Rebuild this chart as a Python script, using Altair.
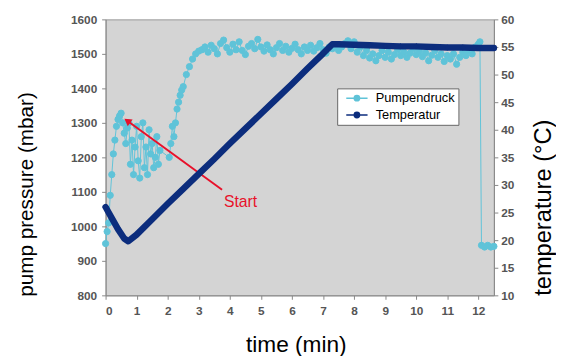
import altair as alt
import pandas as pd

# ---- data ----
press_t = [0.00, 0.05, 0.10, 0.15, 0.20, 0.25, 0.30, 0.35, 0.40, 0.45,
           0.50, 0.55, 0.60, 0.65, 0.70, 0.75, 0.80, 0.85, 0.90, 0.95,
           1.00, 1.05, 1.10, 1.15, 1.20, 1.25, 1.30, 1.35, 1.40, 1.45,
           1.50, 1.55, 1.60, 1.65, 1.70, 1.75,
           2.05, 2.10, 2.15, 2.20, 2.25, 2.30, 2.35, 2.40, 2.45, 2.50,
           2.60, 2.70, 2.80, 2.90, 3.00,
           3.10, 3.20, 3.30, 3.40, 3.50, 3.60, 3.70, 3.80, 3.90, 4.00,
           4.10, 4.20, 4.30, 4.40, 4.50, 4.60, 4.70, 4.80, 4.90, 5.00,
           5.10, 5.20, 5.30, 5.40, 5.50, 5.60, 5.70, 5.80, 5.90, 6.00,
           6.10, 6.20, 6.30, 6.40, 6.50, 6.60, 6.70, 6.80, 6.90, 7.00,
           7.10, 7.20, 7.30, 7.40, 7.50, 7.60, 7.70, 7.80, 7.90, 8.00,
           8.10, 8.20, 8.30, 8.40, 8.50, 8.60, 8.70, 8.80, 8.90, 9.00,
           9.10, 9.20, 9.30, 9.40, 9.50, 9.60, 9.70, 9.80, 9.90, 10.00,
           10.10, 10.20, 10.30, 10.40, 10.50, 10.60, 10.70, 10.80, 10.90, 11.00,
           11.10, 11.20, 11.30, 11.40, 11.50, 11.60, 11.70, 11.80, 11.90, 12.00,
           12.05, 12.10, 12.20, 12.30, 12.40, 12.50]
press_p = [950, 985, 1010, 1090, 1150, 1210, 1250, 1290, 1310, 1320,
           1328, 1300, 1270, 1240, 1285, 1300, 1180, 1250, 1150, 1230,
           1290, 1190, 1140, 1260, 1300, 1170, 1230, 1150, 1280, 1210,
           1240, 1170, 1200, 1260, 1180, 1220,
           1200, 1240, 1290, 1260, 1300, 1340, 1360, 1380, 1395, 1405,
           1440, 1463, 1485, 1500, 1508,
           1512, 1520, 1505, 1525, 1515, 1500, 1530, 1540, 1518, 1505,
           1528, 1512, 1535, 1510, 1498, 1522, 1530, 1515, 1542, 1520,
           1508, 1526, 1512, 1500, 1518, 1530, 1510, 1522, 1505, 1516,
           1528, 1512, 1500, 1520, 1510, 1525, 1508, 1518, 1530, 1512,
           1502, 1520, 1515, 1525, 1510, 1520, 1530, 1538, 1515, 1535,
           1505, 1520, 1495, 1510, 1488, 1500, 1480, 1495, 1510, 1490,
           1505, 1485, 1498, 1512, 1495, 1505, 1490, 1502, 1515, 1498,
           1508, 1492, 1503, 1480, 1496, 1510, 1490, 1500, 1478, 1495,
           1485, 1500, 1470, 1490, 1505, 1495, 1510, 1500, 1520, 1528,
           1535, 945, 940, 945, 940, 942]
assert len(press_t) == len(press_p)

temp_t = [0.0, 0.2, 0.4, 0.6, 0.73, 1.0, 1.5, 2.0, 2.5, 3.0,
          3.5, 4.0, 4.5, 5.0, 5.5, 6.0, 6.5, 7.0, 7.3, 7.5,
          8.0, 8.5, 9.0, 9.5, 10.0, 10.5, 11.0, 11.5, 12.0, 12.5]
temp_c = [26.0, 24.0, 22.0, 20.3, 19.8, 21.0, 23.8, 26.6, 29.3, 32.0,
          34.7, 37.5, 40.2, 42.9, 45.6, 48.3, 51.1, 53.8, 55.5, 55.5,
          55.4, 55.3, 55.2, 55.1, 55.1, 55.0, 54.9, 54.9, 54.8, 54.8]

series_names = ["Pumpendruck", "Temperatur"]
series_colors = ["#5fc3d8", "#0c2d7d"]

# annotation: arrow from label to the start peak (time, pressure)
arrow_t = [3.75, 0.73]
arrow_p = [1106, 1304]
arrow_tip_t = [0.73]
arrow_tip_p = [1304]
label_t = [3.81]
label_p = [1071]
label_text = ["Start"]

press_df = pd.DataFrame({"t": press_t, "p": press_p, "series": series_names[0]})
temp_df = pd.DataFrame({"t": temp_t, "c": temp_c, "series": series_names[1]})
arrow_df = pd.DataFrame({"t": arrow_t, "p": arrow_p, "o": [0, 1]})
tip_df = pd.DataFrame({"t": arrow_tip_t, "p": arrow_tip_p})
label_df = pd.DataFrame({"t": label_t, "p": label_p, "txt": label_text})

FONT = "Liberation Sans"
LBL = dict(labelFontSize=12, labelColor="#555", labelFont=FONT, labelFontWeight="bold")
TTL = dict(titleFont=FONT, titleFontWeight="normal", titleColor="#000")

xscale = alt.Scale(domain=[0, 12.5], nice=False, zero=False)
xaxis = alt.Axis(values=list(range(0, 13)), title="time (min)", grid=False,
                 titleFontSize=23, titleY=50, titleX=193, titleBaseline="middle",
                 titleAlign="center",
                 labelPadding=6, tickSize=4, tickColor="#888",
                 domainColor="#888", **LBL, **TTL)
X = alt.X("t:Q", scale=xscale, axis=xaxis)

pscale = alt.Scale(domain=[800, 1600], nice=False, zero=False)
paxis = alt.Axis(values=list(range(800, 1601, 100)), format="d",
                 title="pump pressure (mbar)",
                 grid=False, titleFontSize=21,
                 titleAngle=270, titleX=-80, titleY=281, titleBaseline="middle",
                 titleAlign="left",
                 labelPadding=5, tickSize=4, tickColor="#888", domainColor="#888",
                 **LBL, **TTL)
cscale = alt.Scale(domain=[10, 60], nice=False, zero=False)
caxis = alt.Axis(values=list(range(10, 61, 5)), title="temperature (°C)",
                 orient="right", grid=False, titleFontSize=24,
                 titleAngle=270, titleX=50, titleY=280, titleBaseline="middle",
                 titleAlign="left",
                 labelPadding=3, tickSize=4, tickColor="#888", domainColor="#888",
                 **LBL, **TTL)

colscale = alt.Scale(domain=series_names, range=series_colors)
legend = alt.Legend(
    orient="none", legendX=235, legendY=70, title=None,
    fillColor="white", strokeColor="#666", padding=3,
    labelFontSize=13, labelFont=FONT, labelColor="#000",
    symbolType="M-1.8,0H1.8M-0.45,0A0.45,0.45,0,1,1,0.45,0A0.45,0.45,0,1,1,-0.45,0Z",
    symbolSize=144, symbolStrokeWidth=1.5, symbolOffset=10, labelOffset=12,
    rowPadding=3,
)

Yp = alt.Y("p:Q", scale=pscale, axis=paxis)

p_line = alt.Chart(press_df).mark_line(color=series_colors[0], strokeWidth=1).encode(
    x=X, y=Yp, order="t:Q")
p_pts = alt.Chart(press_df).mark_point(filled=False, size=40, opacity=1,
                                        strokeWidth=1).encode(
    x=X, y=Yp,
    stroke=alt.Stroke("series:N", scale=colscale, legend=legend),
    fill=alt.Fill("series:N", scale=colscale, legend=legend))

arrow_line = alt.Chart(arrow_df).mark_line(color="#e8102a", strokeWidth=2).encode(
    x=X, y=Yp, order="o:Q")
arrow_tip = alt.Chart(tip_df).mark_point(shape="triangle", filled=True,
                                          color="#e8102a", size=70, angle=306,
                                          opacity=1).encode(x=X, y=Yp)
label = alt.Chart(label_df).mark_text(color="#e8102a", fontSize=16, font=FONT,
                                      align="left", baseline="middle").encode(
    x=X, y=Yp, text="txt:N")

Yc = alt.Y("c:Q", scale=cscale, axis=caxis)
t_line = alt.Chart(temp_df).mark_line(color=series_colors[1], strokeWidth=6.5,
                                      strokeJoin="round", strokeCap="round").encode(
    x=X, y=Yc, order="t:Q")
t_pts = alt.Chart(temp_df).mark_point(filled=False, shape="diamond", size=30,
                                      opacity=1, strokeWidth=1).encode(
    x=X, y=Yc,
    stroke=alt.Stroke("series:N", scale=colscale, legend=legend),
    fill=alt.Fill("series:N", scale=colscale, legend=legend))

left = alt.layer(p_line, p_pts, arrow_line, arrow_tip, label)
right = alt.layer(t_line, t_pts)

chart = alt.layer(left, right).resolve_scale(y="independent").properties(
    width=394, height=280,
    autosize=alt.AutoSizeParams(type="none"),
    padding={"left": 99, "top": 9, "right": 63, "bottom": 59},
    background="white",
).configure_view(fill="#d4d4d4", stroke="#999")

chart.save("out.html", embed_options={"renderer": "svg", "actions": False})
